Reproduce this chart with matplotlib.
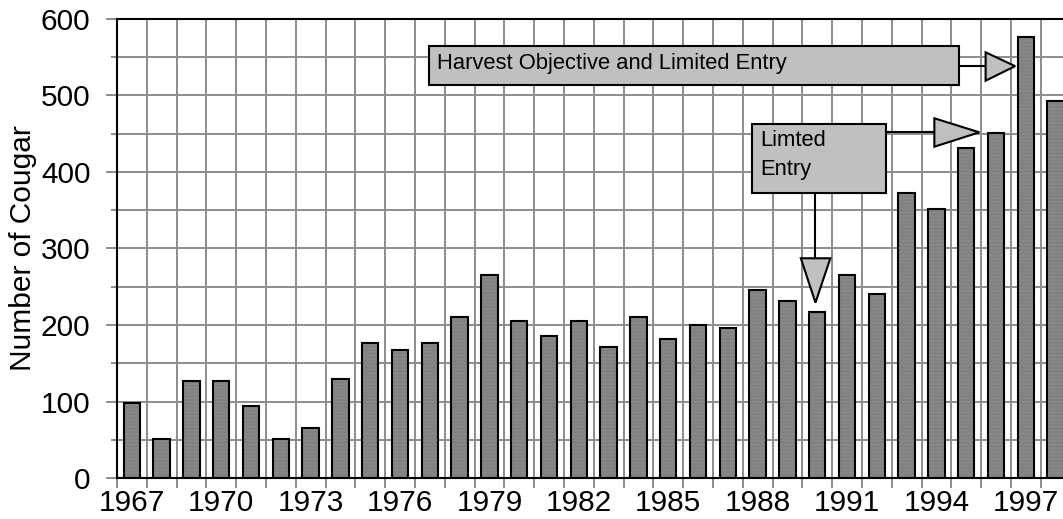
import matplotlib
matplotlib.use("Agg")
import matplotlib.pyplot as plt
from matplotlib.patches import Rectangle, Polygon
import numpy as np


years = list(range(1967, 1999))
cougars = [98, 51, 127, 127, 94, 51, 66, 130,
           176, 167, 177, 210, 265, 205, 185, 205,
           171, 211, 182, 200, 196, 246, 231, 217,
           265, 241, 372, 352, 431, 451, 576, 492]
label_years = list(range(1967, 1998, 3))

plt.rcParams['font.family'] = ['Liberation Sans', 'DejaVu Sans']
plt.rcParams['hatch.linewidth'] = 0.5

grid_gray = "#8c8c8c"
box_gray = "#c0c0c0"

fig = plt.figure(figsize=(10.63, 5.19), dpi=100)
ax = fig.add_axes([0.11, 0.0788, 0.8971, 0.8852])

# textured fill first, then the black outline on top
ax.bar(years, cougars, width=0.55, color="#8f8f8f", edgecolor="#7a7a7a",
       hatch="------------", linewidth=0, zorder=2)
ax.bar(years, cougars, width=0.55, fill=False, edgecolor="black",
       linewidth=1.5, zorder=3)

ax.set_xlim(1966.5, 1998.5)
ax.set_ylim(0, 600)
ax.set_yticks(range(0, 601, 100))
ax.set_yticks(range(50, 600, 100), minor=True)
ax.set_xticks(label_years)
ax.set_xticks(np.arange(1966.5, 1999, 1), minor=True)
ax.xaxis.grid(True, which="minor", color=grid_gray, linewidth=1.4)
ax.yaxis.grid(True, which="both", color=grid_gray, linewidth=1.4)
ax.set_axisbelow(True)

ax.tick_params(axis="x", which="major", length=0, pad=8, labelsize=21.5)
ax.tick_params(axis="x", which="minor", length=7, width=1.4, color=grid_gray)
ax.tick_params(axis="y", which="major", length=8, width=1.4, color=grid_gray,
               pad=11, labelsize=21.5)
ax.tick_params(axis="y", which="minor", length=4.5, width=1.4, color=grid_gray)
ax.set_ylabel("Number of Cougar", fontsize=21.5, labelpad=3)

for side in ["left", "top", "bottom"]:
    ax.spines[side].set_color("black")
    ax.spines[side].set_linewidth(1.5)

# Harvest objective callout
ax.add_patch(Rectangle((1976.97, 513.4), 17.79, 51.3, facecolor=box_gray,
                       edgecolor="black", linewidth=1.5, zorder=5))
ax.text(1977.25, 541, "Harvest Objective and Limited Entry", fontsize=15.8,
        ha="left", va="center", zorder=6)
ax.plot([1994.76, 1995.65], [538, 538], color="black", linewidth=1.5, zorder=4)
ax.add_patch(Polygon([(1995.65, 556.1), (1995.65, 519.0), (1996.64, 538)],
                     facecolor=box_gray, edgecolor="black", linewidth=1.5,
                     zorder=5))

# Limited entry callout
ax.add_patch(Rectangle((1987.82, 372.7), 4.49, 89.8, facecolor=box_gray,
                       edgecolor="black", linewidth=1.5, zorder=5))
ax.text(1988.08, 422, "Limted\nEntry", fontsize=15.8, ha="left", va="center",
        linespacing=1.5, zorder=6)
ax.plot([1992.31, 1993.93], [451.6, 451.6], color="black", linewidth=1.5,
        zorder=4)
ax.add_patch(Polygon([(1993.93, 469.9), (1993.93, 432.8), (1995.44, 451.6)],
                     facecolor=box_gray, edgecolor="black", linewidth=1.5,
                     zorder=5))
ax.plot([1989.94, 1989.94], [372.7, 287.1], color="black", linewidth=1.5,
        zorder=4)
ax.add_patch(Polygon([(1989.45, 287.1), (1990.44, 287.1), (1989.94, 229.1)],
                     facecolor=box_gray, edgecolor="black", linewidth=1.5,
                     zorder=5))

fig.savefig("out.png", dpi=100)
